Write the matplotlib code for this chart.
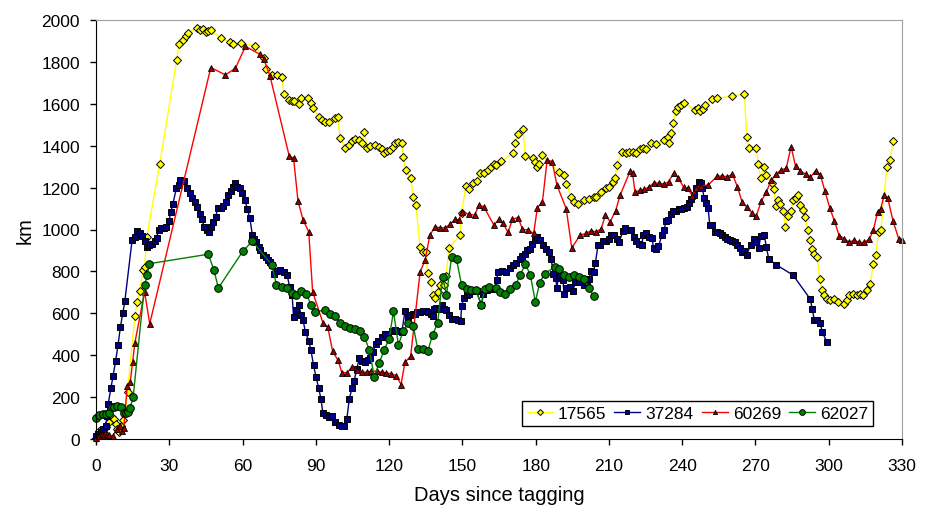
import numpy as np
import matplotlib
matplotlib.use("Agg")
import matplotlib.pyplot as plt

plt.rcParams['font.family'] = ['Liberation Sans', 'DejaVu Sans']

# values (days since tagging, km)
days_17565 = [0, 1.2, 2.5, 4, 5.5, 6.5, 7.5, 8.2, 8.8, 9.5, 10.2, 11, 12, 12.9, 15.9, 16.8, 17.9, 19.1, 19.9, 20.8,
              26.1, 33, 34, 35.8, 36.7, 37.7, 41.2, 42.6, 44, 44.9, 45.9, 47, 51, 55, 56.2, 59.2, 64.9, 68.7, 69.7,
              72.1, 74.1, 76.2, 76.9, 78.9, 80.3, 81.2, 83.0, 84, 87, 88, 88.9, 91.2, 92.5, 93.9, 95.2, 98, 98.9,
              100, 102, 103.4, 104.8, 106.1, 107.5, 108.8, 109.9, 110.9, 112.3, 114.3, 115.7, 117, 118, 119.1,
              120.4, 121.5, 122.5, 123.8, 125.2, 125.8, 126.9, 128.8, 129.9, 131, 132.7, 134, 135, 135.8, 137,
              137.8, 138.8, 139.9, 140.8, 142.4, 143.3, 144.6, 149, 149.7, 151.4, 152.8, 154.4, 155.8, 157.1,
              158.8, 160.5, 161.9, 162.9, 163.7, 166, 170.7, 171.7, 172.8, 174.8, 175.8, 178.9, 179.6, 180.7,
              181.4, 182.6, 189.5, 191.8, 192.5, 194.6, 195.9, 197.3, 200, 201.8, 203.7, 204.8, 206.8, 208.8,
              210.2, 211.6, 212.5, 213.3, 215.4, 217, 218.4, 219.7, 221.1, 222.7, 224.1, 225.2, 227.2, 229.2,
              232.7, 234, 234.7, 235.6, 236.3, 237.4, 238.4, 239.5, 240.6, 245.3, 246.3, 247.2, 248.4, 249.4,
              252.4, 254.4, 260.6, 265.5, 266.4, 267.3, 270.3, 271.2, 272.1, 273.5, 274.4, 276.6, 277.6, 278.3,
              279.2, 279.9, 281.2, 282.3, 283.3, 284.4, 285.5, 286.4, 287.5, 288.4, 289.4, 290.2, 291.4, 292.5,
              293.2, 294.1, 295.2, 296.3, 297.3, 298.2, 299.3, 300.6, 302.3, 304, 306.1, 307.4, 308.5, 309.9,
              311.5, 312.9, 314.2, 315.6, 317, 318.3, 319.3, 320.4, 321.3, 323.8, 325.2, 326.3]
km_17565 = [5, 40, 45, 56, 80, 104, 95, 70, 50, 35, 60, 90, 130, 223, 585, 654, 705, 805, 821, 965,
            1313, 1807, 1887, 1906, 1922, 1938, 1962, 1954, 1957, 1943, 1946, 1954, 1914, 1895, 1887, 1890, 1877, 1818, 1767,
            1738, 1738, 1726, 1646, 1619, 1614, 1614, 1598, 1630, 1627, 1606, 1579, 1539, 1523, 1512, 1515, 1534, 1536,
            1439, 1391, 1403, 1423, 1431, 1427, 1415, 1467, 1388, 1399, 1403, 1396, 1383, 1364, 1376,
            1380, 1396, 1411, 1416, 1415, 1348, 1284, 1244, 1156, 1116, 917, 893, 893, 794, 750,
            689, 673, 702, 737, 734, 780, 912, 973, 1081, 1207, 1193, 1220, 1231, 1268,
            1268, 1284, 1300, 1313, 1308, 1327, 1364, 1411, 1456, 1478, 1352, 1340, 1324, 1297,
            1313, 1356, 1276, 1260, 1217, 1156, 1132, 1124, 1140, 1144, 1153, 1156, 1180, 1196,
            1204, 1228, 1244, 1308, 1372, 1365, 1368, 1372, 1367, 1383, 1391, 1383, 1411, 1407,
            1427, 1440, 1415, 1459, 1510, 1568, 1584, 1595, 1606, 1571, 1582, 1568, 1576, 1592,
            1624, 1627, 1638, 1646, 1443, 1391, 1391, 1313, 1247, 1297, 1260, 1223, 1193, 1113,
            1140, 1124, 1089, 1013, 1065, 1088, 1140, 1148, 1167, 1116, 1092, 1061, 1000, 949,
            906, 885, 869, 766, 710, 686, 670, 665, 670, 654, 643, 662, 686, 694,
            686, 694, 689, 710, 742, 837, 877, 989, 997, 1297, 1332, 1423]

days_37284 = [0, 1, 2, 3, 4, 4.5, 5, 6.1, 7, 8, 9, 10, 11, 11.8, 14.8, 15.9, 16.8, 17.9, 18.9, 19.9, 21, 21.9,
              23, 24, 24.8, 25.7, 26.8, 28, 28.8, 29.8, 30.7, 31.5, 32.9, 33.8, 34.5, 36.1, 37.1, 38.4, 39.5,
              40.4, 41.5, 42.6, 43.5, 44.2, 45.3, 46.3, 47, 48, 49, 49.9, 51, 52, 53.1, 54.1, 55.1, 56.2, 56.9,
              57.8, 58.9, 59.9, 61, 61.9, 63, 64, 64.6, 65.6, 66.7, 67.3, 68.4, 69.4, 70.3, 71.2, 72.1, 73,
              74.1, 75.5, 76.9, 78.2, 79.3, 80.3, 80.9, 82, 83, 84, 84.8, 85.7, 87.1, 88, 89.1, 90.1, 91.2,
              92.1, 92.9, 94.2, 95.2, 96.6, 97.9, 99.3, 100.7, 101.6, 102.7, 103.7, 104.8, 105.7, 106.8, 107.8,
              108.8, 110.2, 111.2, 112.2, 113.3, 114.7, 115.6, 117, 118.3, 119.7, 121.1, 122.4, 123.8, 125.2,
              126.5, 127.6, 128.6, 129.7, 130.6, 131.6, 132.7, 133.8, 135, 136.1, 137, 137.8, 138.4, 139.4,
              140.5, 141.5, 142.4, 143.5, 144.6, 145.6, 147, 148.3, 149.3, 149.7, 150.6, 151.7, 152.7, 154.2,
              155.8, 157.8, 158.5, 159.9, 161.5, 163.3, 164, 164.6, 166.3, 168, 169.4, 170.8, 172.1, 173.5,
              174.6, 175.5, 176.5, 177.6, 178.7, 179.6, 180.7, 181.9, 183, 184.4, 185.5, 186.4, 187.1, 188.2,
              188.7, 189.5, 190.1, 191.2, 191.6, 192.5, 193.9, 195.2, 196.3, 197.7, 199, 200, 200.9, 201.8,
              202.7, 203.7, 204.5, 205.5, 206.4, 207.5, 208.9, 209.9, 210.9, 212.2, 213.2, 214.3, 215.7, 216.6,
              217.7, 219, 220.1, 221.1, 222.4, 223.5, 224.1, 225.2, 226.5, 227.6, 228.3, 229.2, 230.3, 231.7,
              232.7, 233.3, 234.3, 235.4, 236.1, 237.4, 238.6, 239.5, 240.6, 241.9, 242.9, 243.8, 244.9, 245.8,
              246.7, 247.6, 248.3, 249, 249.7, 250.6, 251.3, 252.4, 253.5, 254.4, 255.5, 256.5, 257.6, 258.5,
              259.5, 260.6, 261.7, 262.6, 263.6, 264.6, 265.3, 266.4, 268, 269.4, 270.3, 271.4, 272.1, 273.7,
              274.4, 275.5, 278.5, 285.4, 292.5, 293.2, 294.1, 295.2, 296.6, 297.3, 299.3]
km_37284 = [16, 25, 35, 50, 62, 110, 168, 242, 300, 370, 447, 535, 603, 657, 952, 965, 991, 983, 969, 943, 917, 925,
            933, 944, 960, 1000, 1005, 1008, 1013, 1040, 1084, 1124, 1196, 1212, 1236, 1233, 1199, 1172, 1148,
            1132, 1108, 1072, 1049, 1013, 997, 989, 1013, 1037, 1061, 1104, 1105, 1113, 1132, 1164, 1183, 1204, 1220,
            1204, 1196, 1172, 1140, 1100, 1053, 976, 957, 938, 917, 901, 877, 869, 853, 845, 829, 789,
            800, 805, 797, 785, 726, 686, 582, 614, 638, 593, 569, 510, 470, 423, 351, 295, 242,
            191, 123, 115, 104, 108, 80, 67, 61, 64, 96, 191, 242, 279, 335, 386,
            370, 367, 375, 386, 415, 455, 470, 486, 502, 502, 514, 518, 514, 510,
            609, 582, 593, 598, 598, 606, 606, 609, 609, 606, 598, 587, 622, 625,
            622, 638, 622, 614, 593, 574, 571, 566, 561, 635, 673, 686, 694, 705,
            705, 638, 694, 710, 718, 718, 758, 797, 800, 797, 816, 829, 842, 861,
            872, 885, 901, 909, 933, 949, 965, 949, 925, 909, 893, 861, 789, 769,
            721, 785, 782, 758, 694, 721, 726, 705, 750, 750, 750, 734, 750, 766,
            800, 797, 842, 925, 928, 944, 944, 957, 973, 973, 957, 941, 994, 1008,
            997, 997, 962, 944, 933, 928, 976, 981, 965, 960, 912, 906, 920, 973,
            1000, 1040, 1045, 1072, 1088, 1088, 1096, 1100, 1105, 1108, 1128, 1145, 1164, 1199,
            1225, 1223, 1196, 1148, 1128, 1104, 1021, 1021, 989, 989, 981, 976, 965, 957,
            949, 944, 938, 925, 912, 893, 898, 880, 925, 957, 941, 912, 968, 973,
            917, 858, 832, 782, 667, 622, 569, 569, 555, 510, 463]

days_60269 = [0, 1.4, 2.5, 3.4, 4.5, 5.4, 6.8, 8.6, 9.7, 10.6, 11.4, 12.8, 14, 15, 15.9, 19.9, 22, 47, 53, 57.1,
              61.2, 67, 68.7, 71.2, 79.1, 80.9, 82.7, 84.8, 87.1, 88.7, 92.9, 94.9, 96.9, 99.1, 100.7, 102.7,
              104.8, 106.8, 108.8, 110.9, 112.7, 115, 117, 118.8, 120.8, 122.9, 124.9, 126.5, 128.8, 132.7,
              134.7, 136.7, 138.8, 140.8, 142.9, 144.9, 147, 148.7, 149.7, 152.8, 155, 156.8, 158.8, 162.9,
              165, 166.7, 168.7, 170.5, 172.8, 174.6, 176.9, 179.2, 180.7, 182.8, 184.7, 186.8, 188.7, 192.5,
              194.8, 198.2, 200.6, 202.7, 204.7, 206.8, 208.6, 210.5, 212.7, 214.6, 218.7, 219.7, 220.7, 222.7,
              224.5, 226.5, 228.6, 230.6, 232.7, 234.4, 236.5, 238.4, 240.6, 242.2, 244.2, 245.8, 247.9, 250.6,
              254.4, 256.4, 258.5, 260.6, 262.6, 264.6, 266.4, 268.7, 270.3, 272.4, 274.4, 276.5, 278.5, 280.5,
              282.6, 284.6, 286.4, 288.4, 290.5, 292.5, 294.6, 296.6, 298.4, 300.4, 302.3, 304.3, 306.4, 308.4,
              310.3, 312.5, 314.5, 316.6, 318.3, 320, 321.3, 322.7, 324.2, 326.3, 328.6, 330]
km_60269 = [6, 14, 22, 17, 25, 17, 14, 46, 62, 38, 54, 255, 271, 367, 458, 702, 550, 1773, 1738, 1770,
            1874, 1837, 1815, 1735, 1351, 1340, 1136, 1045, 989, 702, 555, 534, 418, 375, 316, 316,
            343, 327, 319, 319, 324, 324, 319, 316, 311, 303, 260, 367, 394, 797,
            853, 973, 1013, 1008, 1008, 1024, 1049, 1045, 1085, 1072, 1069, 1116, 1108, 1021,
            1049, 1029, 986, 1049, 1057, 1002, 997, 981, 1104, 1132, 1332, 1324, 1212, 1100,
            912, 973, 981, 994, 989, 1002, 1069, 1037, 1088, 1164, 1279, 1268, 1177, 1188,
            1191, 1204, 1223, 1220, 1217, 1228, 1268, 1247, 1201, 1196, 1161, 1199, 1209, 1212,
            1255, 1255, 1252, 1263, 1204, 1129, 1108, 1077, 1064, 1136, 1177, 1236, 1265, 1284,
            1292, 1396, 1303, 1279, 1265, 1249, 1281, 1260, 1185, 1104, 1042, 970, 957, 938,
            949, 938, 938, 954, 997, 1085, 1100, 1164, 1148, 1042, 957, 950]

days_62027 = [0, 1.4, 2.8, 4.1, 5.4, 6.4, 7.5, 8.6, 10.2, 11.4, 12.1, 13, 14, 15.2, 19.9, 21, 21.9, 46, 48.3, 50.1,
              60.1, 64, 72.1, 73.9, 76.2, 78, 80.3, 82, 84, 86.1, 88, 89.8, 93.9, 95.9, 98, 100, 102, 104.1,
              106.1, 107.9, 109.9, 111.9, 113.9, 115.9, 118.1, 120, 121.8, 123.8, 125.8, 127.9, 129.9, 131.7,
              133.7, 135.8, 137.8, 139.9, 141.9, 143.5, 145.6, 147.6, 149.7, 151.7, 153.7, 155.5, 157.8, 159.2,
              160.9, 163.7, 165.6, 167.6, 169.7, 171.8, 173.7, 175.8, 177.8, 179.9, 181.6, 183.7, 187.8, 189.5,
              191.6, 193.6, 195.7, 197.7, 199.8, 201.8, 203.7]
km_62027 = [99, 113, 117, 120, 125, 152, 155, 157, 152, 124, 124, 127, 150, 199, 737, 781, 837, 882, 805, 721,
            896, 944, 829, 734, 726, 721, 699, 689, 705, 694, 641, 606, 617, 598, 585, 553, 539, 529,
            526, 515, 486, 426, 298, 362, 427, 478, 609, 450, 514, 555, 539, 431,
            431, 418, 498, 553, 774, 689, 869, 858, 734, 718, 713, 710, 641, 718,
            726, 721, 702, 694, 718, 734, 785, 833, 785, 654, 745, 789, 821, 813,
            782, 774, 785, 774, 766, 721, 683]

fig = plt.figure(figsize=(9.3, 5.06), dpi=100)
ax = fig.add_axes([96 / 930, 1 - 440 / 506, 806 / 930, 419 / 506])

ax.plot(days_17565, km_17565, color='#FFFF00', lw=1.0, marker='D', ms=4.0,
        mfc='#FFFF00', mec='black', mew=0.7, label='17565', clip_on=False)
ax.plot(days_37284, km_37284, color='#000080', lw=1.0, marker='s', ms=3.9,
        mfc='#000080', mec='black', mew=0.7, label='37284', clip_on=False)
ax.plot(days_60269, km_60269, color='#FF0000', lw=1.0, marker='^', ms=4.0,
        mfc='#990000', mec='black', mew=0.6, label='60269', clip_on=False)
ax.plot(days_62027, km_62027, color='#008000', lw=1.0, marker='o', ms=5.5,
        mfc='#008000', mec='black', mew=0.7, label='62027', clip_on=False)

ax.set_xlim(0, 330)
ax.set_ylim(0, 2000)
ax.set_xticks(np.arange(0, 331, 30))
ax.set_yticks(np.arange(0, 2001, 200))
ax.tick_params(axis='both', direction='out', length=4.5, width=1, labelsize=12.5)
ax.tick_params(axis='y', pad=7)
ax.tick_params(axis='x', pad=9)
for s in ['top', 'right']:
    ax.spines[s].set_color('#A0A0A0')
for s in ['left', 'bottom']:
    ax.spines[s].set_color('black')

ax.set_xlabel('Days since tagging', fontsize=14.5, labelpad=9)
ax.set_ylabel('km', fontsize=14.5, labelpad=5)

leg = ax.legend(loc='lower left', bbox_to_anchor=(0.528, 0.03), ncol=4, fontsize=12.5,
                frameon=True, fancybox=False, edgecolor='black', framealpha=1,
                borderaxespad=0, handlelength=1.5, handletextpad=0.3, columnspacing=0.45,
                borderpad=0.3, markerscale=0.75)
leg.get_frame().set_linewidth(1.0)

fig.savefig('out.png', dpi=100)
